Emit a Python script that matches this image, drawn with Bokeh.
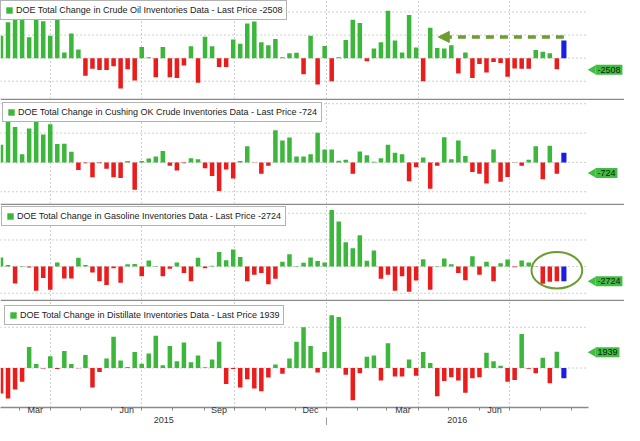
import math
import pandas as pd
from bokeh.plotting import figure
from bokeh.layouts import column
from bokeh.models import FixedTicker, LinearAxis, Label, Arrow, NormalHead, Range1d
from bokeh.embed import file_html
from bokeh.resources import INLINE

# ---------------- data ----------------
FIRST_WEEK = "2015-02-11"
N_WEEKS = 81

crude = [4860, 7780, 8400, 10300, 4510, 9600, 7990, 4860, 10900, 1250, 5340, 1870,
         -3820, -2290, -2570, -2570, -1740, -6590, -2430, -4860,
         2430, 210, -4160, 2430, -4160, -4300, -1600, 2570, -5340, 4650, 2570, -1940, -1940,
         4030, 3120, 7500, 7920, 3470, 2780, 4160, 210, 1040, 1180, -3470, 4860,
         -5690, 2640, -5000, 210, 3960, 8330, 7640, -690, 2080, 3470, 10280, 3820, 1250, 9380, 2290,
         -5000, 6600, 2220, 2080, 2780, -3330, 1250, -4300, -1250, -3120, -830, -1040, -4030, -2220, -2290, -2290,
         1740, 1390, 1040, -2430]
cushing = [1210, 2820, 2420, 550, 2310, 2820, 1910, 2600, 1250, 1280,
           730, -510, -60, -1010, -60, -440, -1010, -1060, 90, -1870,
           90, 260, 400, 770, -220, -550, -50, 290, 220, -400,
           -920, -1940, -480, -1100, 90, 1100, -30, -770, -220, 2200,
           1500, 1690, 400, 400, 550,
           2020, 880, 880, 110, 180, -770, 750, 480, 40, 290,
           1210, 660, 550, -1280, -330, 330, -1800, -220, 1720, 220,
           1500, 440, -660, -770, -1430, 880, -1320, -990, -30, -220,
           180, 1100, -1140, 1140, -770]
gasoline = [1700, 300, -3150, 100, -150, -4550, -2120, -4360, 790, -2240,
            -2240, 1640, 300, -1090, -2730, -3450, -300, -3030, 420, 480,
            -1820, 1150, 100, -1820, -420, 790, -1210, -2730, 1640, -300,
            180, 2730, 1210, 3210, 1820, -2730, -1520, -1210, -3330, -2300,
            910, 2300, 120, 730, 1700,
            1030, 790, 10600, 8480, 4550, 3450, 5880, 1090, 3030, -2300,
            -1520, -4550, -1820, -4730, -2610, 1390, -4360, 100, 1520, 420,
            -1210, -2550, 1940, -1520, 910, -2730, 610, 1330, -120, 1150,
            790, -50, -3210, -2850, -2730]
distillate = [-3130, -3750, -2630, -1670, 2590, 500, -60, 1460, -130, 2090,
              500, -40, 1590, -2380, -500, 1170, 3840, 920, 130, 1960,
              540, 1790, 3960, 330, 2710, 830, 3130, 710, 1540, 100,
              1040, 3210, -1960, -130, -2380, -1380, -2500, -2840, -1170, 420,
              -710, 1170, 3210, 5000, 2710,
              -540, 1960, 6460, 6250, -830, -3960, -630, 1380, 1540, -1540,
              3040, -1040, -1040, 1040, -960, 1960, 630, -3460, -1590, -1130,
              -1540, -3040, -1250, -1130, 1880, 830, 290, -1670, -1460, 4170,
              -80, -630, 1250, -1880, 2000]

latest_week = [3800, 660, -2730, -1250]          # blue (latest) bars
last_price = [-2508, -724, -2724, 1939]
series_names = ["Crude Oil", "Cushing OK Crude", "Gasoline", "Distillate"]
month_labels = ["Mar", "Jun", "Sep", "Dec"]
year_labels = ["2015", "2016"]

# annotations
ARROW_Y = 4600
ARROW_TIP_DATE = "2016-04-21"
CIRCLE_Y = -680
CIRCLE_W_DAYS = 50.5
CIRCLE_H = 6840

# ---------------- layout / style ----------------
W = 624
FRAME_H = [98, 103, 94, 100]
SEP_W = 2
AXES_H = 24
Y_RANGES = [(-8750, 12500), (-2800, 4220), (-6170, 11460), (-4840, 8160)]
GRID_Y = [[-5000, 0, 5000, 10000], [-2000, 0, 2000, 4000], [-5000, 0, 5000, 10000], [0, 5000]]
LEGEND_MARGIN = [0, 2, 1, 4]
X_START, X_END = -0.5, 620.3
DATA_END = 584.4
BAR_W = 4.5

GREEN = "#3cb73c"
RED = "#ea1d1d"
BLUE = "#1c1ce8"
GRID = "#9e9e9e"
SEP = "#8a8a8a"
TAG_GREEN = "#41bd41"
ANNOT = "#6d9c30"
FONT = "Liberation Sans"

week_dates = pd.date_range(FIRST_WEEK, periods=N_WEEKS, freq="7D")
origin = week_dates[0]


def day(d):
    return (pd.Timestamp(d) - origin).days


days = [day(d) for d in week_dates]
days_per_px = (X_END - X_START) / W

# quarter gridlines and month ticks
months = pd.date_range("2015-02-01", "2016-10-01", freq="MS")
month_starts = [day(m) for m in months if X_START <= day(m) <= DATA_END]
quarters = [day(m) for m in months if m.month in (1, 4, 7, 10) and X_START <= day(m) <= DATA_END]
mid_ticks, mid_names = [], []
for m0, m1 in zip(months[:-1], months[1:]):
    name = m0.strftime("%b")
    if name in month_labels and X_START <= day(m0) and day(m1) <= DATA_END:
        mid_ticks.append(int(round((day(m0) + day(m1)) / 2)))
        mid_names.append(name)
jan2016 = day("2016-01-01")
year_ticks = [int(round((X_START + jan2016) / 2)), int(round((jan2016 + DATA_END) / 2))]

x_range = Range1d(X_START, X_END)
all_series = [crude, cushing, gasoline, distillate]
panels = []
for i, vals in enumerate(all_series):
    last = i == 3
    h = FRAME_H[i] + (AXES_H if last else SEP_W)
    p = figure(width=W, height=h, x_range=x_range, y_range=Range1d(*Y_RANGES[i]),
               output_backend="svg", toolbar_location=None,
               x_axis_location="below" if last else None, y_axis_location=None,
               min_border=0)
    p.min_border_bottom = 0 if last else SEP_W
    p.border_fill_color = "white" if last else SEP
    p.background_fill_color = "white"
    p.outline_line_color = None
    p.ygrid.visible = False
    p.xgrid.ticker = FixedTicker(ticks=quarters)
    p.xgrid.grid_line_color = GRID
    p.xgrid.grid_line_dash = "1 3"
    p.xgrid.grid_line_width = 1

    g = GRID_Y[i]
    p.segment(x0=[X_START] * len(g), y0=g, x1=[DATA_END] * len(g), y1=g,
              line_color=GRID, line_dash="1 3", line_width=1)

    past = list(zip(days[:-1], vals))
    px = [d for d, v in past if v >= 0]
    pv = [v for d, v in past if v >= 0]
    nx = [d for d, v in past if v < 0]
    nv = [v for d, v in past if v < 0]
    title = f"DOE Total Change in {series_names[i]} Inventories Data - Last Price {last_price[i]}"
    p.vbar(x=px, top=pv, bottom=0, width=BAR_W, fill_color=GREEN, line_color=None,
           legend_label=title)
    p.vbar(x=nx, top=nv, bottom=0, width=BAR_W, fill_color=RED, line_color=None)
    p.vbar(x=[days[-1]], top=[latest_week[i]], bottom=0, width=BAR_W + 0.6,
           fill_color=BLUE, line_color=None)

    # last price tag
    p.scatter(x=[DATA_END + 4.5 * days_per_px], y=[last_price[i]], marker="triangle",
              angle=math.pi / 2, size=9, fill_color=TAG_GREEN, line_color=None)
    p.add_layout(Label(x=DATA_END, y=last_price[i], x_offset=7, text=str(last_price[i]),
                       text_align="left", text_baseline="middle", text_font=FONT,
                       text_font_size="9px", text_color="#102010",
                       background_fill_color=TAG_GREEN, padding=2))

    lg = p.legend[0]
    lg.location = "top_left"
    lg.margin = LEGEND_MARGIN[i]
    lg.padding = 4
    lg.spacing = 0
    lg.glyph_width = 8
    lg.glyph_height = 8
    lg.label_height = 10
    lg.label_standoff = 3
    lg.label_text_font = FONT
    lg.label_text_font_size = "9px"
    lg.label_text_color = "#222222"
    lg.border_line_color = "#666666"
    lg.border_line_width = 1
    lg.background_fill_alpha = 1.0

    if i == 0:
        p.add_layout(Arrow(end=NormalHead(size=11, fill_color=ANNOT, line_color=ANNOT),
                           x_start=days[-1], y_start=ARROW_Y,
                           x_end=day(ARROW_TIP_DATE), y_end=ARROW_Y,
                           line_color=ANNOT, line_width=3.5, line_dash="8 6"))
    if i == 2:
        p.ellipse(x=[days[-2]], y=[CIRCLE_Y], width=CIRCLE_W_DAYS, height=CIRCLE_H,
                  fill_color=None, line_color=ANNOT, line_width=2)

    if last:
        ax = p.xaxis[0]
        ax.ticker = FixedTicker(ticks=mid_ticks, minor_ticks=month_starts)
        ax.major_label_overrides = {t: n for t, n in zip(mid_ticks, mid_names)}
        ax.bounds = (X_START, DATA_END)
        ax.axis_line_color = SEP
        ax.axis_line_width = 1.5
        ax.major_tick_line_color = None
        ax.major_tick_out = 0
        ax.major_tick_in = 0
        ax.minor_tick_line_color = SEP
        ax.minor_tick_out = 3
        ax.minor_tick_in = 0
        ax.major_label_standoff = -6
        ax.major_label_text_font = FONT
        ax.major_label_text_font_size = "9px"
        ax.major_label_text_color = "#333333"

        yax = LinearAxis(ticker=FixedTicker(ticks=year_ticks, minor_ticks=[jan2016]),
                         major_label_overrides={t: n for t, n in zip(year_ticks, year_labels)},
                         bounds=(X_START, DATA_END))
        yax.axis_line_color = None
        yax.major_tick_line_color = None
        yax.major_tick_out = 0
        yax.major_tick_in = 0
        yax.minor_tick_line_color = "#9a9a9a"
        yax.minor_tick_out = 11
        yax.minor_tick_in = 0
        yax.major_label_standoff = -12
        yax.major_label_text_font = FONT
        yax.major_label_text_font_size = "9px"
        yax.major_label_text_color = "#333333"
        p.add_layout(yax, "below")
    panels.append(p)

layout = column(*panels, spacing=0)
open("out.html", "w").write(file_html(layout, INLINE))
